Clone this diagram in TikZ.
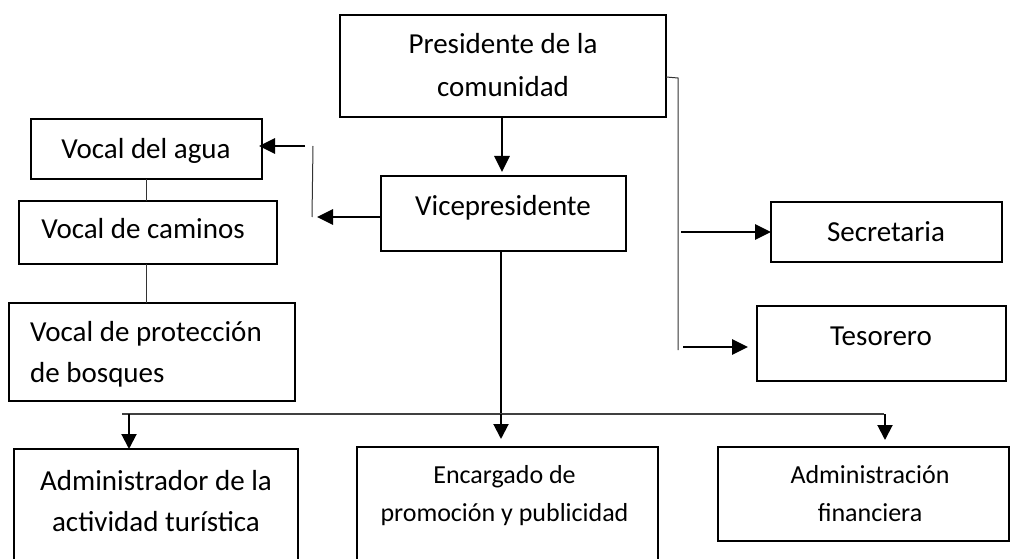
\documentclass[tikz,border=0pt]{standalone}
\usepackage{fontspec}
\setmainfont{Carlito}
\usetikzlibrary{arrows.meta}
\begin{document}
\begin{tikzpicture}[x=1pt,y=-1pt,
  box/.style={draw=black, line width=2.2pt, rectangle, inner sep=0pt, outer sep=0pt},
  txt/.style={font=\fontsize{29}{43}\selectfont, align=center, inner sep=0pt, anchor=base},
  stxt/.style={font=\fontsize{26}{38}\selectfont, align=center, inner sep=0pt, anchor=base},
  bigarrow/.style={line width=2.8pt, -{Triangle[length=16pt,width=15pt]}},
  smallarrow/.style={line width=2pt, -{Triangle[length=15pt,width=15pt]}},
  thinline/.style={line width=1pt, black!80},
  barline/.style={line width=1.4pt, black!75}
]
\useasboundingbox (0,0) rectangle (1013,559);
\clip (0,0) rectangle (1013,559);

% boxes
\node[box, minimum width=326pt, minimum height=102pt] (pres) at (503,66) {};
\node[box, minimum width=245pt, minimum height=75pt] (vice) at (503.5,213.5) {};
\node[box, minimum width=231pt, minimum height=60pt] (agua) at (146.5,149) {};
\node[box, minimum width=258pt, minimum height=63pt] (cam) at (148,232.5) {};
\node[box, minimum width=286pt, minimum height=98pt] (bos) at (152,352) {};
\node[box, minimum width=231pt, minimum height=60pt] (sec) at (886.5,232) {};
\node[box, minimum width=249pt, minimum height=75pt] (tes) at (881.5,343.5) {};
\node[box, minimum width=284pt, minimum height=126pt] (tur) at (156,512) {};
\node[box, minimum width=301pt, minimum height=128pt] (enc) at (507.5,511) {};
\node[box, minimum width=291pt, minimum height=94pt] (fin) at (863.5,494) {};

% texts (base anchor of multi-line nodes = last line's baseline)
\node[txt] (prest) at (503,97) {Presidente de la\\comunidad};
\node[txt] (vicet) at (503,215) {Vicepresidente};
\node[txt] (aguat) at (146,159) {Vocal del agua};
\node[txt] (camt) at (143,239) {Vocal de caminos};
\node[txt, font=\fontsize{29}{41}\selectfont, align=left, anchor=base west] (bost) at (30,382) {Vocal de protección\\de bosques};
\node[txt] (sect) at (886,241) {Secretaria};
\node[txt] (test) at (881,345) {Tesorero};
\node[txt, font=\fontsize{29}{41}\selectfont] (turt) at (156,531) {Administrador de la\\actividad turística};
\node[stxt] (enct) at (504.5,521) {Encargado de\\promoción y publicidad};
\node[stxt] (fint) at (870,521) {Administración\\financiera};

% president -> vice
\draw[bigarrow] (pres.south -| 502,0) -- (502,172);

% right bracket
\coordinate (pr1) at (678,78);
\coordinate (pr2) at (678,350);
\draw[thinline] ([yshift=-11pt]pres.east) -- (pr1) -- (pr2);
\coordinate (s0) at (681,232);
\draw[bigarrow] (s0) -- (s0 -| sec.west);
\coordinate (t0) at (683,347);
\draw[bigarrow, shorten >=9pt] (t0) -- (t0 -| tes.west);

% left side
\coordinate (v1) at (313,146);
\coordinate (v2) at (312,217);
\draw[thinline] (v1) -- (v2);
\draw[bigarrow] (vice.west |- v2) -- ([xshift=5pt]v2);
\coordinate (a0) at (305,146);
\draw[bigarrow, shorten >=-3pt] (a0) -- (a0 -| agua.east);
\draw[thinline] (agua.south) -- (agua.south |- cam.north);
\draw[thinline] (cam.south -| agua.south) -- (agua.south |- bos.north);

% bottom
\coordinate (bar) at (501,414);
\coordinate (barL) at (122,414);
\coordinate (barR) at (884,414);
\coordinate (la) at (129,414);
\coordinate (ra) at (885,414);
\draw[line width=1.6pt] (vice.south -| bar) -- (bar);
\draw[barline] (barL) -- (barR);
\draw[smallarrow] (la) -- (la |- tur.north);
\draw[smallarrow, shorten >=8pt] (bar) -- (bar |- enc.north);
\draw[smallarrow, shorten >=7pt] (ra) -- (ra |- fin.north);
\end{tikzpicture}
\end{document}
